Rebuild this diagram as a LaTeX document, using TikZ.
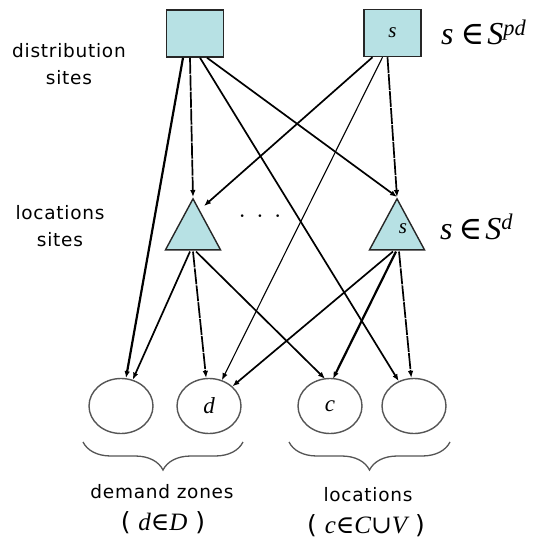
\documentclass[tikz,border=0pt]{standalone}
\usepackage{fontspec}
\setmainfont{DejaVu Sans}
\newfontfamily\tms{Liberation Serif}
\newfontfamily\dvs{DejaVu Serif}
\usetikzlibrary{shapes.geometric,arrows.meta,decorations.pathreplacing,calc}
\definecolor{boxfill}{RGB}{183,225,228}
\definecolor{edgegray}{RGB}{85,85,85}
\newcommand{\mi}[1]{{\tms\itshape #1}}
\newcommand{\elem}{{\dvs\char"2208}}
\newcommand{\unionsym}{{\dvs\char"222A}}
\begin{document}
\begin{tikzpicture}[x=1pt,y=-1pt,
  site/.style={draw=black!85,line width=1.5pt,fill=boxfill,minimum width=57pt,minimum height=47pt,inner sep=0pt,font=\fontsize{21}{21}\selectfont},
  tri/.style={draw=black!85,line width=1.4pt,fill=boxfill,isosceles triangle,shape border rotate=90,isosceles triangle stretches,minimum width=55pt,minimum height=51pt,inner sep=0pt},
  zone/.style={draw=edgegray,line width=1.4pt,ellipse,minimum width=64pt,minimum height=55pt,inner sep=0pt,font=\fontsize{23}{23}\selectfont},
  lbl/.style={align=center,font=\fontsize{18.5}{27}\selectfont\addfontfeature{LetterSpace=4}},
  setlbl/.style={inner sep=0pt,font=\fontsize{32}{32}\selectfont},
  setline/.style={font=\fontsize{25}{25}\selectfont},
  arr/.style={-{Latex[length=7pt,width=5.5pt]},line width=1.7pt},
  arrthin/.style={arr,line width=1.1pt},
  arrthick/.style={arr,line width=2.2pt},
  arrdash/.style={arr,dash pattern=on 16pt off 1pt},
  bracepath/.style={draw=edgegray,line width=1.3pt,decorate,decoration={brace,mirror,amplitude=28pt}}
]
\useasboundingbox (0,0) rectangle (533,540);
% distribution sites
\node[site] (lb) at (195,33.5) {};
\node[site] (rb) at (392.5,33) {\mi{s}};
% location sites
\node[tri,anchor=apex] (lt) at (193,197) {};
\node[tri,anchor=apex] (rt) at (397,197) {};
\node[inner sep=0pt,font=\fontsize{21}{21}\selectfont] (rts) at (403,229) {\mi{s}};
\node[font=\fontsize{9}{9}\selectfont,inner sep=0pt] (dots) at (260,217) {\textbullet\hspace{12.5pt}\textbullet\hspace{12.5pt}\textbullet};
% zones
\node[zone] (e1) at (121,406) {};
\node[zone] (e2) at (209,406) {\mi{d}};
\node[zone] (e3) at (330,406) {\mi{c}};
\node[zone] (e4) at (414,406) {};
% side labels
\node[lbl] (ldist) at (69,64) {distribution\\sites};
\node[lbl] (lloc) at (60,226) {locations\\sites};
\node[setlbl,anchor=base west] (spd) at (441,45) {\mi{s}\hspace{7pt}\elem\hspace{3pt}\mi{S}\textsuperscript{\mi{pd}}};
\node[setlbl,anchor=base west] (sd) at (440,239) {\mi{s}\hspace{6pt}\elem\hspace{3pt}\mi{S}\textsuperscript{\mi{d}}};
% braces
\draw[bracepath] (83,442) -- (243,442);
\draw[bracepath] (289,442) -- (450,442);
\node[lbl] (ldem) at (162,492) {demand zones};
\node[setline] (ldemset) at (163,523) {( \mi{d}\elem\mi{D} )};
\node[lbl] (lcl) at (368,495) {locations};
\node[setline] (lclset) at (366,526) {( \mi{c}\elem\mi{C}\unionsym\mi{V} )};
% edges from distribution sites
\draw[arrthick] ($(lb.south)+(-12,0)$) -- (e1);
\draw[arrdash] ($(lb.south)+(-5,0)$) -- (lt.apex);
\draw[arr] ($(lb.south)+(5,0)$) -- (e4);
\draw[arr] ($(lb.south)+(12,0)$) -- (rt.apex);
\draw[arr] ($(rb.south)+(-20,0)$) -- ($(lt.apex)+(11,9)$);
\draw[arrthin] ($(rb.south)+(-10,0)$) -- (e2);
\draw[arrdash] ($(rb.south)+(-5,0)$) -- (rt.apex);
% edges from location sites
\draw[arr] ($(lt.lower side)+(-3,1)$) -- (e1);
\draw[arrdash] ($(lt.lower side)+(0,1)$) -- (e2);
\draw[arr] ($(lt.lower side)+(3,1)$) -- ($(e3.north)+(-5,1)$);
\draw[arr] ($(rt.lower side)+(-4,1)$) -- (e2);
\draw[arrthick] ($(rt.lower side)+(-1,1)$) -- ($(e3.north)+(3,1)$);
\draw[arrdash] ($(rt.lower side)+(2,1)$) -- (e4);
\end{tikzpicture}
\end{document}
